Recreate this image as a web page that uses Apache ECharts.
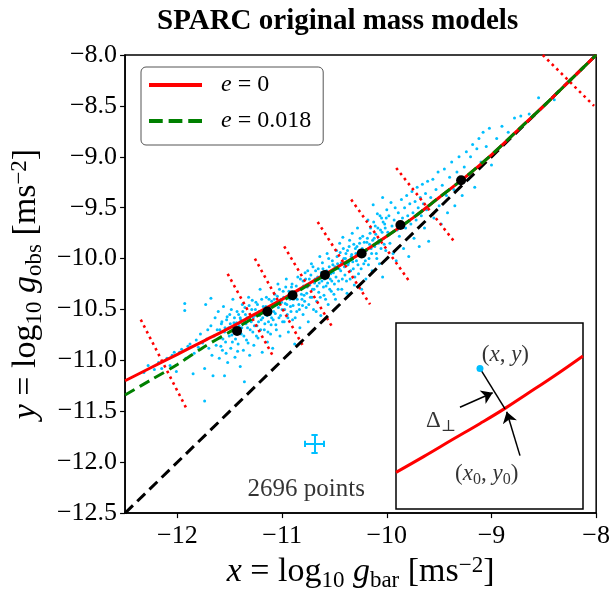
<!DOCTYPE html>
<html>
<head>
<meta charset="utf-8">
<script src="https://cdn.jsdelivr.net/npm/echarts@6/dist/echarts.min.js"></script>
<style>
  html, body { margin: 0; padding: 0; background: #fff; }
  #chart { width: 613px; height: 597px; }
</style>
</head>
<body>
<div id="chart"></div>
<script>
// tick values
const xTicks = [-12, -11, -10, -9, -8];

// model curves
const curveX = [-12.5, -12.25, -12, -11.75, -11.5, -11.25, -11, -10.75, -10.5, -10.25, -10, -9.75, -9.5, -9.25, -9, -8.75, -8.5, -8.25, -8];
const curveE0 = [-11.20, -11.07, -10.94, -10.81, -10.68, -10.54, -10.40, -10.25, -10.10, -9.95, -9.78, -9.60, -9.40, -9.20, -8.98, -8.74, -8.50, -8.25, -8.00];
const curveE018 = [-11.34, -11.19, -11.04, -10.87, -10.72, -10.57, -10.42, -10.26, -10.11, -9.95, -9.78, -9.60, -9.40, -9.20, -8.98, -8.74, -8.50, -8.25, -8.00];
const oneToOne = [-12.5, -8];

// binned means
const binX = [-11.43, -11.14, -10.90, -10.59, -10.24, -9.87, -9.29];
const binY = [-10.71, -10.52, -10.36, -10.16, -9.95, -9.67, -9.23];

// dotted perpendicular segments
const perpFrom = [[-12.35, -10.60], [-11.52, -10.15], [-11.26, -10.00], [-10.98, -9.88], [-10.66, -9.64], [-10.34, -9.42], [-9.91, -9.11], [-8.51, -8.00]];
const perpTo = [[-11.91, -11.48], [-11.08, -10.97], [-10.80, -10.86], [-10.51, -10.69], [-10.16, -10.45], [-9.78, -10.23], [-9.35, -9.84], [-8.02, -8.50]];

// data points (sampled by eye from the cloud)
const points = [
  [-12.32, -11.12], [-12.28, -11.05], [-12.22, -11.09], [-12.18, -11.02], [-12.15, -11.08], [-12.10, -10.98], [-12.07, -11.05], [-12.05, -10.95], [-12.03, -10.92], [-12.01, -11.11],
  [-11.98, -10.92], [-11.96, -10.89], [-11.93, -10.44], [-11.93, -10.51], [-11.92, -10.98], [-11.90, -10.86], [-11.88, -10.84], [-11.85, -11.13], [-11.84, -10.93], [-11.82, -10.80],
  [-11.80, -10.87], [-11.78, -10.74], [-11.76, -10.83], [-11.74, -11.08], [-11.74, -11.40], [-11.73, -10.45], [-11.72, -10.79], [-11.71, -10.70], [-11.70, -10.88],
  [-11.68, -10.39], [-11.68, -10.66], [-11.67, -10.95], [-11.66, -11.15], [-11.65, -10.76], [-11.64, -10.58], [-11.63, -10.85], [-11.62, -10.70], [-11.61, -10.52], [-11.60, -10.98],
  [-11.59, -10.78], [-11.58, -10.64], [-11.57, -10.90], [-11.56, -10.47], [-11.55, -11.15], [-11.55, -10.72], [-11.54, -10.82], [-11.53, -10.60], [-11.52, -11.02], [-11.51, -10.68],
  [-11.50, -10.55], [-11.49, -10.88], [-11.48, -10.75], [-11.47, -10.40], [-11.46, -10.63], [-11.45, -10.97], [-11.44, -10.70], [-11.43, -10.52], [-11.42, -10.84], [-11.41, -10.66],
  [-11.40, -11.06], [-11.40, -10.58],
  [-11.39, -10.74], [-11.38, -10.45], [-11.37, -10.90], [-11.36, -11.21], [-11.36, -10.62], [-11.35, -10.55], [-11.34, -10.80], [-11.33, -10.68], [-11.32, -10.38], [-11.31, -10.95],
  [-11.30, -10.60], [-11.29, -10.50], [-11.28, -10.72], [-11.27, -10.85], [-11.26, -10.56], [-11.25, -10.43], [-11.24, -10.66], [-11.23, -10.78], [-11.22, -10.52], [-11.21, -10.30],
  [-11.20, -10.60], [-11.19, -10.92], [-11.18, -10.47], [-11.17, -10.70], [-11.16, -10.55], [-11.15, -10.38], [-11.14, -10.82], [-11.13, -10.62], [-11.12, -10.48], [-11.11, -10.74],
  [-11.10, -10.42], [-11.10, -10.58],
  [-11.09, -10.88], [-11.08, -10.52], [-11.07, -10.35], [-11.06, -10.65], [-11.05, -10.45], [-11.04, -10.25], [-11.03, -10.58], [-11.02, -10.76], [-11.01, -10.40], [-11.00, -10.50],
  [-10.99, -10.32], [-10.98, -10.62], [-10.97, -10.44], [-10.96, -10.20], [-10.95, -10.55], [-10.94, -10.72], [-10.93, -10.36], [-10.92, -10.47], [-10.91, -10.28], [-10.90, -10.60],
  [-10.89, -10.40], [-10.88, -10.84], [-10.87, -10.33], [-10.86, -10.52], [-10.85, -10.18], [-10.84, -10.45], [-10.83, -10.68], [-10.82, -10.30], [-10.81, -10.40], [-10.80, -10.55],
  [-10.80, -10.22],
  [-10.79, -10.36], [-10.78, -10.14], [-10.77, -10.48], [-10.76, -10.28], [-10.75, -10.62], [-10.74, -10.20], [-10.73, -10.38], [-10.72, -10.05], [-10.71, -10.30], [-10.70, -10.50],
  [-10.69, -10.24], [-10.68, -10.12], [-10.67, -10.42], [-10.66, -10.18], [-10.65, -10.33], [-10.64, -9.98], [-10.63, -10.56], [-10.62, -10.22], [-10.61, -10.10], [-10.60, -10.36],
  [-10.59, -10.15], [-10.58, -10.27], [-10.57, -9.95], [-10.56, -10.45], [-10.55, -10.08], [-10.54, -10.20], [-10.53, -10.32], [-10.52, -10.02], [-10.51, -10.14], [-10.50, -10.25],
  [-10.49, -10.40], [-10.48, -9.92], [-10.47, -10.05], [-10.46, -10.22], [-10.45, -9.85], [-10.44, -10.12], [-10.43, -10.30], [-10.42, -9.79], [-10.41, -10.00], [-10.40, -10.16],
  [-10.39, -9.95], [-10.38, -10.34], [-10.37, -10.06], [-10.36, -9.88], [-10.35, -10.20], [-10.34, -9.98], [-10.33, -9.75], [-10.32, -10.10], [-10.31, -10.26], [-10.30, -9.90],
  [-10.29, -10.02], [-10.28, -9.70], [-10.27, -10.15], [-10.26, -9.85], [-10.25, -9.97], [-10.24, -10.30], [-10.23, -9.78], [-10.22, -10.05], [-10.21, -9.92], [-10.20, -10.20],
  [-10.19, -9.84], [-10.18, -9.62], [-10.17, -10.00], [-10.16, -9.75], [-10.15, -9.90], [-10.14, -10.12], [-10.13, -9.47], [-10.12, -9.80], [-10.11, -9.68], [-10.10, -9.95],
  [-10.09, -9.56], [-10.08, -9.85], [-10.07, -10.05], [-10.06, -9.72], [-10.05, -9.60], [-10.04, -9.40], [-10.04, -10.18], [-10.03, -9.80], [-10.02, -9.66], [-10.01, -9.92],
  [-10.00, -9.52], [-9.99, -9.74], [-9.98, -9.58], [-9.97, -9.85], [-9.96, -9.45], [-9.95, -9.68], [-9.94, -9.95], [-9.93, -9.62], [-9.92, -9.50], [-9.91, -10.02], [-9.90, -9.72],
  [-9.89, -9.55], [-9.88, -9.78], [-9.87, -9.65], [-9.86, -9.42], [-9.85, -9.60], [-9.84, -9.90], [-9.83, -9.50], [-9.82, -9.70], [-9.81, -9.38], [-9.80, -9.58],
  [-9.79, -9.98], [-9.78, -9.46], [-9.77, -9.66], [-9.76, -9.34], [-9.75, -9.55], [-9.74, -9.80], [-9.73, -9.44], [-9.72, -9.62], [-9.71, -9.30], [-9.70, -9.50],
  [-9.69, -9.88], [-9.68, -9.40], [-9.67, -9.58], [-9.66, -9.27], [-9.65, -9.46], [-9.64, -9.70], [-9.63, -9.36], [-9.62, -9.52], [-9.61, -9.24], [-9.60, -9.83],
  [-9.58, -9.40], [-9.56, -9.22], [-9.55, -9.60], [-9.53, -9.32], [-9.51, -9.15], [-9.50, -9.48], [-9.48, -9.66], [-9.47, -9.28], [-9.45, -9.12], [-9.43, -9.38],
  [-9.42, -9.55], [-9.40, -9.20], [-9.38, -9.05], [-9.36, -9.32], [-9.35, -9.48], [-9.33, -9.15], [-9.31, -9.00], [-9.30, -9.26],
  [-9.28, -9.38], [-9.26, -9.10], [-9.24, -8.95], [-9.22, -9.22], [-9.20, -9.00], [-9.18, -8.88], [-9.16, -9.30], [-9.14, -8.92], [-9.12, -8.82], [-9.10, -9.05],
  [-9.08, -8.76], [-9.05, -8.90], [-9.02, -8.72], [-9.00, -9.08],
  [-8.95, -8.82], [-8.90, -8.70], [-8.84, -8.76], [-8.78, -8.62], [-8.72, -8.60], [-8.64, -8.58], [-8.55, -8.42], [-8.40, -8.44]
];

// more points in the dense core of the cloud
const pointsCore = [
  [-11.595, -10.70], [-11.585, -10.86], [-11.575, -10.62], [-11.565, -10.79], [-11.545, -10.68], [-11.535, -10.93], [-11.525, -10.57], [-11.505, -10.76], [-11.495, -10.64],
  [-11.485, -10.50], [-11.475, -10.82], [-11.465, -10.71], [-11.455, -10.58], [-11.445, -10.79], [-11.435, -10.63], [-11.425, -10.91], [-11.415, -10.55], [-11.405, -10.72],
  [-11.395, -10.60], [-11.385, -10.68], [-11.375, -10.52], [-11.365, -10.76], [-11.355, -10.48], [-11.345, -10.64], [-11.335, -10.58], [-11.325, -10.83], [-11.315, -10.46], [-11.305, -10.70],
  [-11.295, -10.62], [-11.285, -10.41], [-11.275, -10.58], [-11.265, -10.66], [-11.255, -10.50], [-11.245, -10.76], [-11.235, -10.45], [-11.225, -10.62], [-11.215, -10.56], [-11.205, -10.70],
  [-11.195, -10.40], [-11.185, -10.58], [-11.175, -10.52], [-11.165, -10.64], [-11.155, -10.47], [-11.145, -10.56], [-11.135, -10.72], [-11.125, -10.40], [-11.115, -10.55], [-11.105, -10.65],
  [-11.095, -10.47], [-11.085, -10.60], [-11.075, -10.40], [-11.065, -10.54], [-11.055, -10.70], [-11.045, -10.37], [-11.035, -10.48], [-11.025, -10.30], [-11.015, -10.56], [-11.005, -10.43],
  [-10.995, -10.62], [-10.985, -10.38], [-10.975, -10.50], [-10.965, -10.28], [-10.955, -10.45], [-10.945, -10.58], [-10.935, -10.32], [-10.925, -10.40], [-10.915, -10.52], [-10.905, -10.25],
  [-10.895, -10.46], [-10.885, -10.35], [-10.875, -10.58], [-10.865, -10.27], [-10.855, -10.40], [-10.845, -10.31], [-10.835, -10.50], [-10.825, -10.20], [-10.815, -10.35], [-10.805, -10.46],
  [-10.795, -10.27], [-10.785, -10.42], [-10.775, -10.20], [-10.765, -10.34], [-10.755, -10.12], [-10.745, -10.45], [-10.735, -10.26], [-10.725, -10.16], [-10.715, -10.38], [-10.705, -10.08],
  [-10.695, -10.30], [-10.685, -10.20], [-10.675, -10.52], [-10.665, -10.27], [-10.655, -10.10], [-10.645, -10.24], [-10.635, -10.38], [-10.625, -10.14], [-10.615, -10.04], [-10.605, -10.28],
  [-10.595, -10.20], [-10.585, -10.40], [-10.575, -10.12], [-10.565, -10.24], [-10.555, -10.00], [-10.545, -10.30], [-10.535, -10.15], [-10.525, -10.22], [-10.515, -10.06], [-10.505, -10.35],
  [-10.495, -10.08], [-10.485, -10.18], [-10.475, -9.98], [-10.465, -10.30], [-10.455, -10.10], [-10.445, -9.94], [-10.435, -10.04], [-10.425, -10.20], [-10.415, -9.90], [-10.405, -10.08],
  [-10.395, -10.00], [-10.385, -10.22], [-10.375, -9.92], [-10.365, -10.04], [-10.355, -9.82], [-10.345, -10.12], [-10.335, -9.96], [-10.325, -10.03], [-10.315, -9.86], [-10.305, -10.18],
  [-10.295, -9.95], [-10.285, -9.88], [-10.275, -10.06], [-10.265, -9.92], [-10.255, -9.80], [-10.245, -10.10], [-10.235, -9.90], [-10.225, -9.98], [-10.215, -9.84], [-10.205, -10.02],
  [-10.195, -9.92], [-10.185, -9.80], [-10.175, -10.06], [-10.165, -9.86], [-10.155, -9.70], [-10.145, -9.95], [-10.135, -9.82], [-10.125, -9.64], [-10.115, -9.88], [-10.105, -9.76],
  [-10.095, -10.00], [-10.085, -9.70], [-10.075, -9.82], [-10.065, -9.58], [-10.055, -9.90], [-10.045, -9.74], [-10.035, -9.64], [-10.025, -9.86], [-10.015, -9.70], [-10.005, -9.60]
];

// typical error bar and point count
const errCenter = [-10.69, -11.82];
const errHalf = [0.09, 0.09];
const errCap = 0.03;
const pointCount = 2696;
const countPos = [-10.77, -12.27];

// inset sketch (unit box)
const insetCurve = [[0, 0.197], [0.15, 0.283], [0.3, 0.372], [0.45, 0.46], [0.583, 0.541], [0.7, 0.618], [0.85, 0.718], [1.0, 0.823]];
const insetPoint = [0.449, 0.756];
const insetFoot = [0.583, 0.538];
const arrowA = [[0.342, 0.547], [0.517, 0.625]];
const arrowB = [[0.663, 0.287], [0.592, 0.523]];
const posXY = [0.585, 0.83];
const posDelta = [0.24, 0.475];
const posXY0 = [0.485, 0.19];

const SERIF = "'Liberation Serif', 'DejaVu Serif', serif";
const minus = (s) => s.replace('-', '\u2212');

const chart = echarts.init(document.getElementById('chart'));

const errSegs = [
  [[errCenter[0] - errHalf[0], errCenter[1]], [errCenter[0] + errHalf[0], errCenter[1]]],
  [[errCenter[0], errCenter[1] - errHalf[1]], [errCenter[0], errCenter[1] + errHalf[1]]],
  [[errCenter[0] - errHalf[0], errCenter[1] - errCap], [errCenter[0] - errHalf[0], errCenter[1] + errCap]],
  [[errCenter[0] + errHalf[0], errCenter[1] - errCap], [errCenter[0] + errHalf[0], errCenter[1] + errCap]],
  [[errCenter[0] - errCap, errCenter[1] - errHalf[1]], [errCenter[0] + errCap, errCenter[1] - errHalf[1]]],
  [[errCenter[0] - errCap, errCenter[1] + errHalf[1]], [errCenter[0] + errCap, errCenter[1] + errHalf[1]]]
];

const nameRich = {
  n: { fontFamily: SERIF, fontSize: 34, color: '#000', lineHeight: 36 },
  i: { fontFamily: SERIF, fontSize: 34, fontStyle: 'italic', color: '#000', lineHeight: 36 },
  s: { fontFamily: SERIF, fontSize: 23, color: '#000', lineHeight: 23, padding: [15, 0, 0, 0], verticalAlign: 'top' },
  p: { fontFamily: SERIF, fontSize: 23, color: '#000', lineHeight: 23, verticalAlign: 'top' }
};

const insetRich = {
  n: { fontFamily: SERIF, fontSize: 23, color: '#000', lineHeight: 25 },
  i: { fontFamily: SERIF, fontSize: 23, fontStyle: 'italic', color: '#000', lineHeight: 25 },
  s: { fontFamily: SERIF, fontSize: 16, color: '#000', lineHeight: 16, padding: [11, 0, 0, 0], verticalAlign: 'top' }
};

const legendSolid = 'path://M0,0H54V4H0Z';
const legendDashed = 'path://M0,0H14V4H0Z M20,0H34V4H20Z M40,0H54V4H40Z';

const option = {
  animation: false,
  backgroundColor: '#fff',
  title: {
    text: 'SPARC original mass models',
    left: 152,
    top: 2,
    textStyle: { fontFamily: SERIF, fontWeight: 'bold', fontSize: 29, color: '#000' }
  },
  legend: {
    orient: 'vertical',
    left: 141,
    top: 67,
    data: [{ name: 'e0', icon: legendSolid }, { name: 'e018', icon: legendDashed }],
    itemWidth: 53,
    itemHeight: 4,
    itemGap: 12,
    padding: [6, 12, 12, 8],
    borderColor: '#555',
    borderWidth: 1,
    borderRadius: 5,
    backgroundColor: '#fff',
    formatter: (name) => name === 'e0' ? '{i|e}{n| = 0}' : '{i|e}{n| = 0.018}',
    textStyle: {
      padding: [0, 0, 0, 14],
      rich: {
        i: { fontFamily: SERIF, fontSize: 24, fontStyle: 'italic', color: '#000', lineHeight: 26 },
        n: { fontFamily: SERIF, fontSize: 24, color: '#000', lineHeight: 26 }
      }
    }
  },
  grid: [
    { left: 125, top: 55, width: 472, height: 465, show: true, borderColor: '#000', borderWidth: 1.5 },
    { left: 396, top: 323, width: 187, height: 186, show: true, borderColor: '#000', borderWidth: 1.5, backgroundColor: '#fff', z: 5 }
  ],
  xAxis: [
    {
      type: 'value', gridIndex: 0, min: -12.5, max: -8,
      axisLine: { onZero: false, lineStyle: { color: '#000', width: 1.5 } },
      axisTick: { customValues: xTicks, length: 5, lineStyle: { color: '#000', width: 1.2 } },
      axisLabel: {
        customValues: xTicks, margin: 10, color: '#000', fontFamily: SERIF, fontSize: 26,
        formatter: (v) => minus(String(v))
      },
      splitLine: { show: false },
      name: '{i|x}{n| = log}{s|10}{i| g}{s|bar}{n| [ms}{p|\u22122}{n|]}',
      nameLocation: 'middle',
      nameGap: 40,
      nameTextStyle: { rich: nameRich }
    },
    { type: 'value', gridIndex: 1, min: 0, max: 1, show: false }
  ],
  yAxis: [
    {
      type: 'value', gridIndex: 0, min: -12.5, max: -8, interval: 0.5,
      axisLine: { onZero: false, lineStyle: { color: '#000', width: 1.5 } },
      axisTick: { length: 5, lineStyle: { color: '#000', width: 1.2 } },
      axisLabel: {
        margin: 8, color: '#000', fontFamily: SERIF, fontSize: 26,
        formatter: (v) => minus(v.toFixed(1))
      },
      splitLine: { show: false },
      name: '{i|y}{n| = log}{s|10}{i| g}{s|obs}{n| [ms}{p|\u22122}{n|]}',
      nameLocation: 'middle',
      nameRotate: 90,
      nameGap: 74,
      nameTextStyle: { rich: nameRich }
    },
    { type: 'value', gridIndex: 1, min: 0, max: 1, show: false }
  ],
  series: [
    {
      type: 'scatter', name: 'data', xAxisIndex: 0, yAxisIndex: 0,
      data: points.concat(pointsCore), symbolSize: 3, itemStyle: { color: '#00bfff', opacity: 1 }, silent: true, z: 1
    },
    {
      type: 'lines', coordinateSystem: 'cartesian2d', xAxisIndex: 0, yAxisIndex: 0,
      data: perpFrom.map((p, i) => ({ coords: [p, perpTo[i]] })),
      lineStyle: { color: '#ff0000', width: 2.6, type: [2.6, 3.8], opacity: 1 },
      silent: true, z: 2
    },
    {
      type: 'line', name: 'one', xAxisIndex: 0, yAxisIndex: 0,
      data: [[oneToOne[0], oneToOne[0]], [oneToOne[1], oneToOne[1]]],
      symbol: 'none', lineStyle: { color: '#000', width: 3, type: [11, 6] }, silent: true, z: 3
    },
    {
      type: 'line', name: 'e0', xAxisIndex: 0, yAxisIndex: 0,
      data: curveX.map((x, i) => [x, curveE0[i]]), smooth: 0.3,
      symbol: 'none', lineStyle: { color: '#ff0000', width: 3 }, itemStyle: { color: '#ff0000' }, z: 4
    },
    {
      type: 'line', name: 'e018', xAxisIndex: 0, yAxisIndex: 0,
      data: curveX.map((x, i) => [x, curveE018[i]]), smooth: 0.3,
      symbol: 'none', lineStyle: { color: '#008000', width: 3, type: [11, 6] }, itemStyle: { color: '#008000' }, z: 5
    },
    {
      type: 'scatter', name: 'bins', xAxisIndex: 0, yAxisIndex: 0,
      data: binX.map((x, i) => [x, binY[i]]), symbolSize: 10,
      itemStyle: { color: '#000', opacity: 1 }, silent: true, z: 6
    },
    {
      type: 'lines', coordinateSystem: 'cartesian2d', xAxisIndex: 0, yAxisIndex: 0,
      data: errSegs.map((c) => ({ coords: c })),
      lineStyle: { color: '#00bfff', width: 2, opacity: 1 }, silent: true, z: 6
    },
    {
      type: 'scatter', xAxisIndex: 0, yAxisIndex: 0,
      data: [countPos], symbolSize: 0, silent: true,
      label: {
        show: true, position: 'inside', formatter: pointCount + ' points',
        fontFamily: SERIF, fontSize: 25, color: '#000'
      }
    },
    // inset
    {
      type: 'line', xAxisIndex: 1, yAxisIndex: 1, data: insetCurve, smooth: 0.4,
      symbol: 'none', lineStyle: { color: '#ff0000', width: 3 }, silent: true, z: 10
    },
    {
      type: 'lines', coordinateSystem: 'cartesian2d', xAxisIndex: 1, yAxisIndex: 1,
      data: [{ coords: [insetPoint, insetFoot] }],
      lineStyle: { color: '#000', width: 1.5, opacity: 1 }, silent: true, z: 11
    },
    {
      type: 'lines', coordinateSystem: 'cartesian2d', xAxisIndex: 1, yAxisIndex: 1,
      data: [{ coords: arrowA }, { coords: arrowB }],
      symbol: ['none', 'arrow'], symbolSize: 11,
      lineStyle: { color: '#000', width: 1.5, opacity: 1 }, silent: true, z: 11
    },
    {
      type: 'scatter', xAxisIndex: 1, yAxisIndex: 1, data: [insetPoint], symbolSize: 7,
      itemStyle: { color: '#00bfff', opacity: 1 }, silent: true, z: 12
    },
    {
      type: 'scatter', xAxisIndex: 1, yAxisIndex: 1, symbolSize: 0, silent: true, z: 12,
      data: [
        { value: posXY, label: { formatter: '{n|(}{i|x}{n|, }{i|y}{n|)}' } },
        { value: posDelta, label: { formatter: '{n|\u0394}{s|\u22a5}' } },
        { value: posXY0, label: { formatter: '{n|(}{i|x}{s|0}{n|, }{i|y}{s|0}{n|)}' } }
      ],
      label: { show: true, position: 'inside', rich: insetRich }
    }
  ]
};

chart.setOption(option);
</script>
</body>
</html>
